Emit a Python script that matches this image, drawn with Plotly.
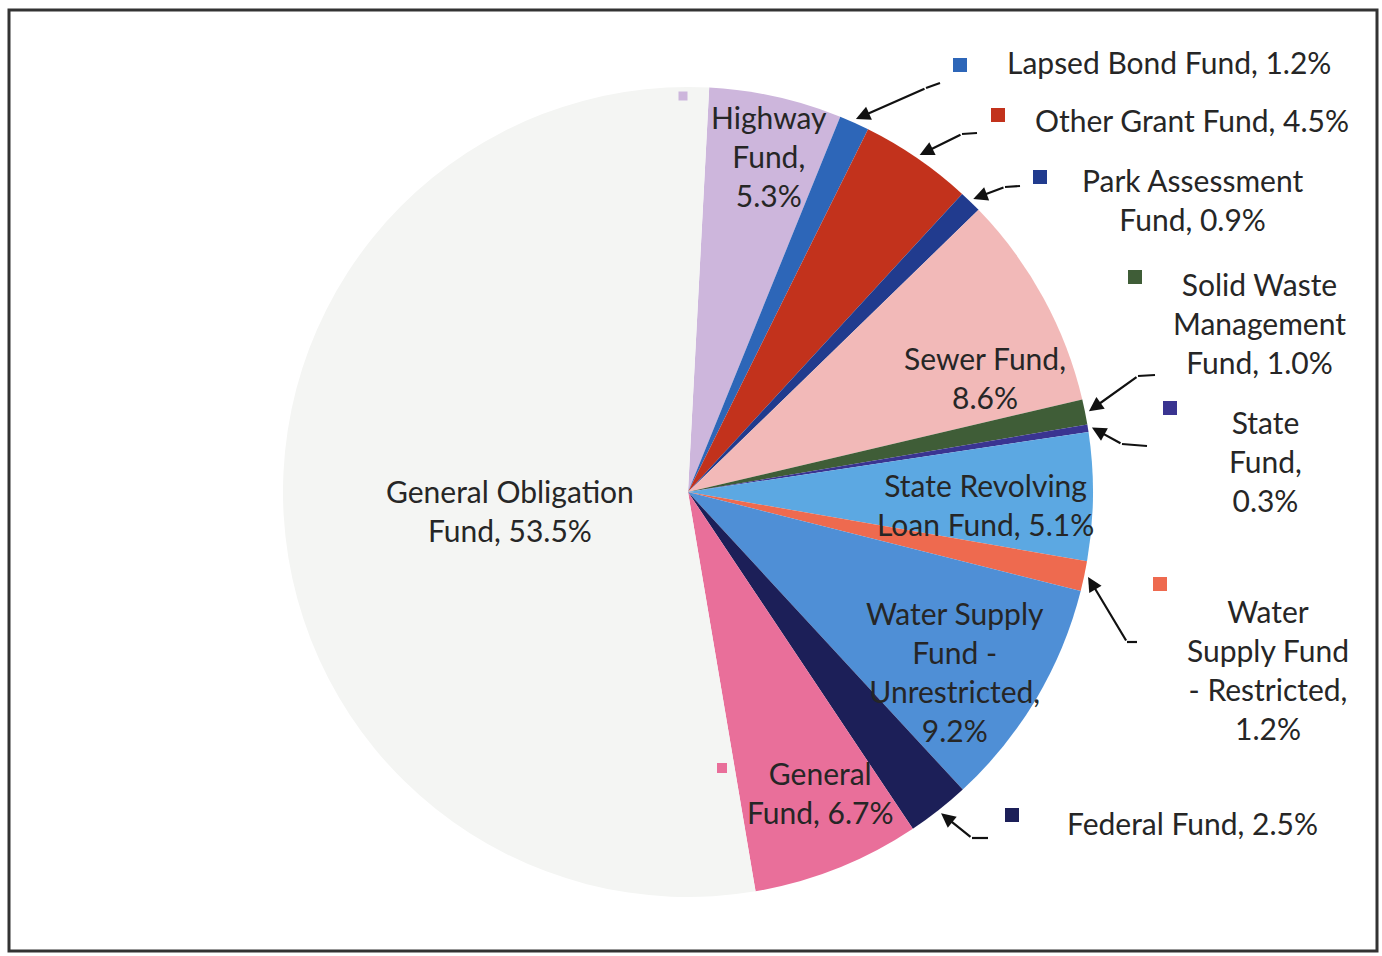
import math
import plotly.graph_objects as go

# --- data -------------------------------------------------------------
funds = [
    "Highway Fund", "Lapsed Bond Fund", "Other Grant Fund", "Park Assessment Fund",
    "Sewer Fund", "Solid Waste Management Fund", "State Fund",
    "State Revolving Loan Fund", "Water Supply Fund - Restricted",
    "Water Supply Fund - Unrestricted", "Federal Fund", "General Fund",
    "General Obligation Fund",
]
shares = [5.3, 1.2, 4.5, 0.9, 8.6, 1.0, 0.3, 5.1, 1.2, 9.2, 2.5, 6.7, 53.5]
label_text = [
    "Highway<br>Fund,<br>5.3%",
    "Lapsed Bond Fund, 1.2%",
    "Other Grant Fund, 4.5%",
    "Park Assessment<br>Fund, 0.9%",
    "Sewer Fund,<br>8.6%",
    "Solid Waste<br>Management<br>Fund, 1.0%",
    "State<br>Fund,<br>0.3%",
    "State Revolving<br>Loan Fund, 5.1%",
    "Water<br>Supply Fund<br>- Restricted,<br>1.2%",
    "Water Supply<br>Fund -<br>Unrestricted,<br>9.2%",
    "Federal Fund, 2.5%",
    "General<br>Fund, 6.7%",
    "General Obligation<br>Fund, 53.5%",
]
colors = [
    "#cdb6dc", "#2d66b8", "#c2321c", "#213b8e", "#f2b9b8", "#3f5d37", "#3a3491",
    "#5ca8e2", "#ee6a4f", "#4f8fd6", "#1c1f58", "#e96f9a", "#f4f5f3",
]

# --- layout (pixels in a 1382x956 page) --------------------------------
W, H = 1382, 956
CX, CY, R = 688, 492, 405
ROT = 3

def px(x, y):
    return x / W, 1 - y / H

# label centres
label_pos = {
    0: (769, 156), 1: (1169, 62), 2: (1192, 120), 3: (1192, 199),
    4: (985, 377), 5: (1259, 323), 6: (1265, 461), 7: (985, 504),
    8: (1268, 669), 9: (955, 671), 10: (1192, 823), 11: (820, 792),
    12: (510, 511),
}
# small legend keys
key_pos = {
    0: (683, 96, 9), 1: (960, 65, 14), 2: (998, 115, 14), 3: (1040, 177, 14),
    5: (1135, 277, 14), 6: (1170, 408, 14), 8: (1160, 584, 14),
    10: (1012, 815, 14), 11: (722, 768, 10),
}
# leader lines: (tail, elbow)
leaders = {
    1: ((940, 83), (926, 88)),
    2: ((977, 133), (962, 134)),
    3: ((1020, 186), (1005, 187)),
    5: ((1155, 375), (1138, 376)),
    6: ((1147, 446), (1122, 444)),
    8: ((1137, 642), (1127, 642)),
    10: ((988, 838), (972, 838)),
}

fig = go.Figure(go.Pie(
    labels=funds, values=shares, sort=False, direction="clockwise",
    rotation=ROT, textinfo="none", hoverinfo="label+percent",
    marker=dict(colors=colors, line=dict(width=0)),
    domain=dict(x=[(CX - R) / W, (CX + R) / W],
                y=[1 - (CY + R) / H, 1 - (CY - R) / H]),
    showlegend=False,
))

font = dict(family="Lato, Calibri, sans-serif", size=30, color="#262626")
total = sum(shares)
cum = 0
for i, v in enumerate(shares):
    mid = math.radians(ROT + 360 * (cum + v / 2) / total)
    cum += v
    lx, ly = label_pos[i]
    fig.add_annotation(x=px(lx, ly)[0], y=px(lx, ly)[1], xref="paper", yref="paper",
                       text=label_text[i], showarrow=False, font=font,
                       xanchor="center", yanchor="middle", align="center")
    if i in key_pos:
        kx, ky, s = key_pos[i]
        x0, y0 = px(kx - s / 2, ky + s / 2)
        x1, y1 = px(kx + s / 2, ky - s / 2)
        fig.add_shape(type="rect", xref="paper", yref="paper", x0=x0, y0=y0, x1=x1, y1=y1,
                      fillcolor=colors[i], line=dict(width=0))
    if i in leaders:
        (tx, ty), (ex, ey) = leaders[i]
        tipx = CX + (R + 4) * math.sin(mid)
        tipy = CY - (R + 4) * math.cos(mid)
        fig.add_annotation(x=px(tipx, tipy)[0], y=px(tipx, tipy)[1], xref="paper", yref="paper",
                           text="", showarrow=True, ax=ex - tipx, ay=ey - tipy,
                           arrowhead=2, arrowsize=1.3, arrowwidth=2.2, arrowcolor="#111111",
                           standoff=0)
        a, b = px(tx, ty)
        c, d = px(ex, ey)
        fig.add_shape(type="line", xref="paper", yref="paper", x0=a, y0=b, x1=c, y1=d,
                      line=dict(color="#111111", width=2.2))

# chart frame
fx0, fy0 = px(9, 951)
fx1, fy1 = px(1377, 10)
fig.add_shape(type="rect", xref="paper", yref="paper", x0=fx0, y0=fy0, x1=fx1, y1=fy1,
              line=dict(color="#333333", width=3), fillcolor="rgba(0,0,0,0)")

fig.update_layout(
    width=W, height=H, margin=dict(l=0, r=0, t=0, b=0),
    paper_bgcolor="white", plot_bgcolor="white",
)

# page body has a default 8px margin; drop it so the figure fills the window
fig.write_html("out.html", config={"displayModeBar": False},
               post_script="document.body.style.margin='0';document.body.style.overflow='hidden';")
